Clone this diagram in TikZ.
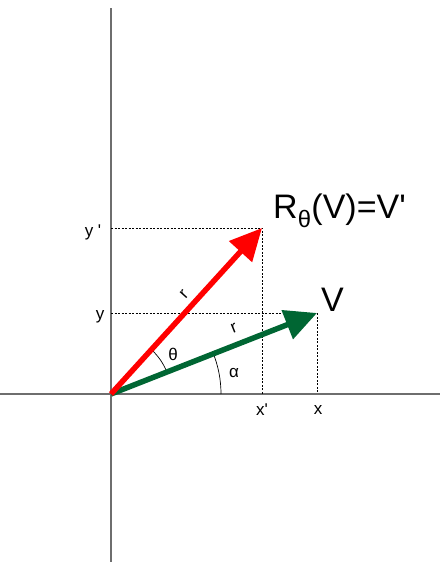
\documentclass[tikz,border=0pt]{standalone}
\usepackage{fontspec}
\setmainfont{Liberation Sans}
\usetikzlibrary{arrows.meta,calc}
\definecolor{axisgray}{RGB}{110,110,110}
\definecolor{vgreen}{RGB}{0,102,51}
\definecolor{vred}{RGB}{255,0,0}
\begin{document}
\begin{tikzpicture}[x=1pt,y=1pt,
  axisline/.style={draw=axisgray,line width=1.4pt},
  guide/.style={draw=black,dashed,line width=0.6pt,dash pattern=on 2pt off 1.5pt},
  vecarrow/.style={line width=5.5pt,-{Triangle[length=32pt,width=30pt]}},
  anglearc/.style={draw=black,line width=0.7pt},
  small/.style={font=\fontsize{17}{19}\selectfont,inner sep=0pt},
  big/.style={font=\fontsize{34}{38}\selectfont,inner sep=0pt}]
\useasboundingbox (0,0) rectangle (440,562);
\coordinate (O) at (111,168);
\coordinate (Xl) at (0,168);
\coordinate (Xr) at (440,168);
\coordinate (Yt) at (111,554);
\coordinate (Yb) at (111,0);
\coordinate (Vt) at (317,249);
\coordinate (Wt) at (262,334);
\coordinate (Vy) at (111,249);
\coordinate (Vx) at (317,168);
\coordinate (Wy) at (111,334);
\coordinate (Wx) at (262,168);
% axes
\path[axisline] (Xl) -- (Xr);
\path[axisline] (Yb) -- (Yt);
% guides
\path[guide] (Wy) -- (Wt) -- (Wx);
\path[guide] (Vy) -- (Vt) -- (Vx);
% angle arcs
\path[anglearc] ($(O)+(22:60)$) arc[start angle=22,end angle=48,radius=60];
\path[anglearc] ($(O)+(0:110)$) arc[start angle=0,end angle=22,radius=110];
% vectors
\draw[vecarrow,draw=vgreen,fill=vgreen] (O) -- (Vt);
\draw[vecarrow,draw=vred,fill=vred] (O) -- (Wt);
% labels
\node[small] (lth) at (173,208) {θ};
\node[small] (lal) at (234,189) {α};
\node[small,rotate=48] (lr1) at (184,268) {r};
\node[small,rotate=22] (lr2) at (234,234) {r};
\node[small] (lyp) at (93,330) {y \textquotesingle};
\node[small] (ly) at (100,245) {y};
\node[small] (lxp) at (262,152) {x\textquotesingle};
\node[small] (lx) at (318,152) {x};
\node[big,anchor=west] (lR) at (273,351) {R\textsubscript{θ}(V)=V\textquotesingle};
\node[big,anchor=west] (lV) at (321,262) {V};
\end{tikzpicture}
\end{document}
